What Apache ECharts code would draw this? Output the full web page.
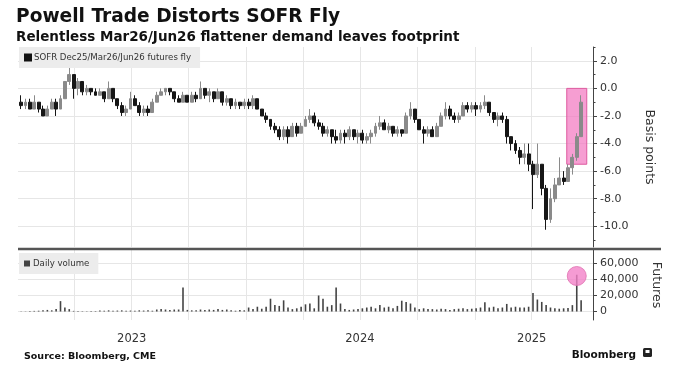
<!DOCTYPE html>
<html><head><meta charset="utf-8">
<script src="https://cdn.jsdelivr.net/npm/echarts@6/dist/echarts.min.js"></script>
<style>html,body{margin:0;padding:0;background:#fff}#c{width:675px;height:370px}</style>
</head><body><div id="c"></div>
<script>
// ---- data (weekly) ----
const weekStart = [2023, 0, 6];   // first weekly bar (Friday)
const flyOpen = [-1.0,-1.25,-1.0,-1.5,-1.0,-1.5,-2.0,-1.5,-1.0,-1.5,-0.75,0.5,1.0,0.0,0.5,-0.25,0.0,-0.25,-0.5,-0.25,-0.75,0.0,-0.75,-1.25,-1.75,-1.5,-0.75,-1.25,-1.75,-1.5,-1.75,-1.0,-0.5,-0.25,0.0,-0.25,-0.75,-1.0,-0.5,-1.0,-0.5,-0.75,0.0,-0.5,-0.25,-0.75,-0.25,-1.0,-0.75,-1.25,-1.0,-1.25,-1.0,-1.25,-0.75,-1.5,-2.0,-2.25,-2.75,-3.0,-3.5,-3.0,-3.5,-2.75,-3.25,-2.75,-2.25,-2.0,-2.5,-2.75,-3.25,-3.0,-3.5,-3.75,-3.25,-3.5,-3.0,-3.5,-3.25,-3.75,-3.5,-3.25,-2.75,-2.5,-3.0,-2.75,-3.25,-3.0,-3.25,-2.0,-1.5,-2.25,-3.0,-3.25,-3.0,-3.5,-2.75,-2.0,-1.5,-2.0,-2.25,-2.0,-1.25,-1.5,-1.25,-1.5,-1.25,-1.0,-1.75,-2.25,-2.0,-2.25,-3.5,-4.0,-4.5,-5.0,-4.75,-5.5,-6.25,-5.5,-7.25,-9.5,-8.0,-7.0,-6.5,-6.75,-5.75,-5.0,-3.5];
const flyClose = [-1.25,-1.0,-1.5,-1.0,-1.5,-2.0,-1.5,-1.0,-1.5,-0.75,0.5,1.0,0.0,0.5,-0.25,0.0,-0.25,-0.5,-0.25,-0.75,0.0,-0.75,-1.25,-1.75,-1.5,-0.75,-1.25,-1.75,-1.5,-1.75,-1.0,-0.5,-0.25,0.0,-0.25,-0.75,-1.0,-0.5,-1.0,-0.5,-0.75,0.0,-0.5,-0.25,-0.75,-0.25,-1.0,-0.75,-1.25,-1.0,-1.25,-1.0,-1.25,-0.75,-1.5,-2.0,-2.25,-2.75,-3.0,-3.5,-3.0,-3.5,-2.75,-3.25,-2.75,-2.25,-2.0,-2.5,-2.75,-3.25,-3.0,-3.5,-3.75,-3.25,-3.5,-3.0,-3.5,-3.25,-3.75,-3.5,-3.25,-2.75,-2.5,-3.0,-2.75,-3.25,-3.0,-3.25,-2.0,-1.5,-2.25,-3.0,-3.25,-3.0,-3.5,-2.75,-2.0,-1.5,-2.0,-2.25,-2.0,-1.25,-1.5,-1.25,-1.5,-1.25,-1.0,-1.75,-2.25,-2.0,-2.25,-3.5,-4.0,-4.5,-5.0,-4.75,-5.5,-6.25,-5.5,-7.25,-9.5,-8.0,-7.0,-6.5,-6.75,-5.75,-5.0,-3.5,-1.0];
const flyLow = [-1.5,-1.5,-1.5,-1.5,-1.75,-2.0,-2.0,-1.5,-2.0,-1.5,-0.75,0.25,-0.75,-0.5,-0.5,-0.5,-0.5,-0.5,-0.5,-1.0,-0.75,-1.0,-1.5,-2.0,-2.0,-1.5,-1.25,-2.0,-2.0,-2.0,-1.75,-1.0,-0.5,-0.5,-0.5,-1.0,-1.0,-1.0,-1.0,-1.0,-1.0,-0.75,-0.75,-1.0,-1.0,-0.75,-1.25,-1.25,-1.5,-1.5,-1.5,-1.5,-1.5,-1.5,-1.5,-2.0,-2.5,-3.0,-3.25,-3.75,-3.75,-4.0,-3.5,-3.5,-3.25,-2.75,-2.5,-2.75,-3.0,-3.5,-3.5,-4.0,-4.0,-4.0,-4.0,-3.75,-3.75,-4.0,-4.0,-4.0,-4.0,-3.5,-3.0,-3.0,-3.25,-3.5,-3.5,-3.5,-3.25,-2.25,-2.5,-3.0,-4.0,-3.5,-3.5,-3.5,-2.75,-2.25,-2.25,-2.5,-2.5,-2.0,-1.75,-1.75,-2.0,-1.75,-1.5,-2.0,-2.5,-2.75,-2.5,-4.0,-4.5,-4.75,-5.5,-5.5,-6.0,-8.75,-6.5,-7.75,-10.25,-9.75,-8.25,-7.0,-7.0,-6.75,-6.25,-5.25,-3.5];
const flyHigh = [-0.5,-0.75,-0.75,-0.5,-1.0,-1.25,-1.25,-0.75,-0.75,-0.5,0.5,1.5,1.0,0.75,0.5,0.25,0.0,0.0,0.0,-0.25,0.5,0.0,-0.75,-1.0,-1.25,-0.25,-0.5,-1.0,-1.25,-1.25,-0.75,-0.25,0.0,0.0,0.0,-0.25,-0.5,-0.25,-0.5,-0.25,-0.25,0.5,0.0,0.0,-0.25,0.0,-0.25,-0.5,-0.75,-0.75,-1.0,-0.75,-0.75,-0.5,-0.75,-1.5,-1.75,-2.25,-2.5,-2.75,-2.75,-2.75,-2.5,-2.5,-2.5,-2.0,-1.5,-1.75,-2.25,-2.5,-2.75,-3.0,-3.0,-3.0,-3.0,-2.75,-3.0,-3.0,-3.0,-3.25,-3.0,-2.5,-2.0,-2.25,-2.5,-2.75,-2.75,-3.0,-1.75,-1.0,-1.5,-2.25,-2.75,-2.75,-2.75,-2.5,-1.75,-1.0,-1.25,-1.75,-1.75,-1.0,-1.0,-1.0,-1.0,-1.0,-0.5,-1.0,-1.75,-1.75,-1.75,-2.0,-3.5,-3.75,-4.25,-4.0,-4.0,-5.25,-4.0,-5.5,-7.0,-7.25,-6.5,-5.0,-6.0,-5.5,-4.75,-3.25,-0.5];
const dailyVolume = [300,300,500,800,1000,1500,2000,1500,3000,13000,5000,3000,800,500,500,400,500,600,1200,1000,1500,1000,1200,1500,1000,1200,1000,1500,1200,1500,1000,2500,3000,2500,2000,2500,2500,30000,2000,1500,1500,2500,2000,2500,2000,3000,2000,2500,1500,1000,2000,1500,5000,3000,6000,3500,6000,16000,8000,7000,14000,5000,3000,4000,6000,9000,10000,4000,20000,16000,6000,8000,30000,10000,3000,2000,2500,3000,4000,5000,6000,4000,8000,5000,6000,4000,7000,13500,12000,10000,5000,3000,4000,3000,3000,2500,3500,3000,2000,3000,3500,4000,3000,3500,4000,5000,11500,5000,6000,4000,5000,9500,5000,6000,5000,5000,6000,23000,15000,12000,8000,5000,4000,3500,4000,4500,8000,46000,14000];
const xRange = ['2023-01-01', '2025-07-09'];
const quarterDates = ['2023-04-01','2023-07-01','2023-10-01','2024-01-01','2024-04-01','2024-07-01','2024-10-01','2025-01-01','2025-04-01'];
const yearLabelDates = ['2023-07-02','2024-07-01','2025-04-02'];
const flyTicks = [2,0,-2,-4,-6,-8,-10];
const flyMinorTicks = [3,1,-1,-3,-5,-7,-9,-11];
const volumeTicks = [0,20000,40000,60000];
const highlightBox = [['2025-05-28', 0], ['2025-06-29', -5.5]];
const highlightSpike = ['2025-06-13', 44400];

// ---- build ----
const ts = s => { const p = s.split('-').map(Number); return Date.UTC(p[0], p[1]-1, p[2]); };
const weekDates = flyOpen.map((_, i) => Date.UTC(weekStart[0], weekStart[1], weekStart[2] + 7*i));
const candleData = weekDates.map((d, i) => [d, flyOpen[i], flyClose[i], flyLow[i], flyHigh[i]]);
const volData = weekDates.map((d, i) => [d, dailyVolume[i]]);
const FONT = 'DejaVu Sans';
const gridColor = '#e6e6e6';

const xCommon = {
  type: 'value', min: ts(xRange[0]), max: ts(xRange[1]), scale: true,
  axisLine: {show: false},
  axisTick: {show: false, customValues: quarterDates.map(ts)},
  splitLine: {show: true, lineStyle: {color: gridColor, width: 1}}
};

const chart = echarts.init(document.getElementById('c'));
chart.setOption({
  animation: false,
  backgroundColor: '#fff',
  title: [
    {text: 'Powell Trade Distorts SOFR Fly', left: 11, top: 3,
     textStyle: {fontFamily: FONT, fontSize: 18.6, fontWeight: 'bold', color: '#111'},
     subtext: 'Relentless Mar26/Jun26 flattener demand leaves footprint',
     subtextStyle: {fontFamily: FONT, fontSize: 13.5, fontWeight: 'bold', color: '#111'}, itemGap: 3},
    {text: 'Source: Bloomberg, CME', left: 19, top: 347,
     textStyle: {fontFamily: FONT, fontSize: 9.5, fontWeight: 'bold', color: '#111'}},
    {text: 'Bloomberg', right: 34, top: 345,
     textStyle: {fontFamily: FONT, fontSize: 10.5, fontWeight: 'bold', color: '#111'}}
  ],
  legend: [
    {data: [{name: 'SOFR Dec25/Mar26/Jun26 futures fly', itemStyle: {color: '#111', borderColor: '#111'}}],
     left: 19, top: 47, icon: 'rect', itemWidth: 6, itemHeight: 6, itemGap: 3,
     backgroundColor: '#ececec', padding: [6, 9, 6, 5], selectedMode: false,
     textStyle: {fontFamily: FONT, fontSize: 8.6, color: '#333', padding: [0, 0, 0, -2]}},
    {data: [{name: 'Daily volume', itemStyle: {color: '#444', borderColor: '#444'}}],
     left: 19, top: 253, icon: 'rect', itemWidth: 6, itemHeight: 6,
     backgroundColor: '#ececec', padding: [6, 9, 6, 5], selectedMode: false,
     textStyle: {fontFamily: FONT, fontSize: 8.6, color: '#333', padding: [0, 0, 0, -2]}}
  ],
  grid: [
    {left: 18, right: 82, top: 47, height: 200},
    {left: 18, right: 82, top: 250, height: 70}
  ],
  xAxis: [
    Object.assign({gridIndex: 0, axisLabel: {show: false}}, xCommon),
    Object.assign({gridIndex: 1, axisLabel: {show: true, customValues: yearLabelDates.map(ts), margin: 13,
      fontFamily: FONT, fontSize: 11.5, color: '#333', formatter: v => String(new Date(v).getUTCFullYear())}}, xCommon)
  ],
  yAxis: [
    {gridIndex: 0, type: 'value', position: 'right', min: -11.5, max: 3.0,
     axisLine: {show: true, lineStyle: {color: '#444'}},
     axisTick: {show: true, length: 4, customValues: flyTicks, lineStyle: {color: '#444'}},
     axisLabel: {show: true, customValues: flyTicks, margin: 7, fontFamily: FONT, fontSize: 11, color: '#333',
       formatter: v => v.toFixed(1)},
     splitLine: {show: true, lineStyle: {color: gridColor}},
     name: 'Basis points', nameLocation: 'middle', nameRotate: -90, nameGap: 50,
     nameTextStyle: {fontFamily: FONT, fontSize: 12.5, color: '#333'}},
    {gridIndex: 0, type: 'value', position: 'right', offset: 0, min: -11.5, max: 3.0,
     axisLine: {show: false}, axisLabel: {show: false}, splitLine: {show: false},
     axisTick: {show: true, length: 2.5, customValues: flyMinorTicks, lineStyle: {color: '#444'}}},
    {gridIndex: 1, type: 'value', position: 'right', min: -10600, max: 76900,
     axisLine: {show: true, lineStyle: {color: '#444'}},
     axisTick: {show: true, length: 4, customValues: volumeTicks, lineStyle: {color: '#444'}},
     axisLabel: {show: true, customValues: volumeTicks, margin: 7, fontFamily: FONT, fontSize: 11, color: '#333'},
     splitLine: {show: true, lineStyle: {color: gridColor}},
     name: 'Futures', nameLocation: 'middle', nameRotate: -90, nameGap: 47,
     nameTextStyle: {fontFamily: FONT, fontSize: 12.5, color: '#333'}}
  ],
  series: [
    {name: 'SOFR Dec25/Mar26/Jun26 futures fly', type: 'candlestick', xAxisIndex: 0, yAxisIndex: 0,
     data: candleData, barWidth: 3.4,
     itemStyle: {color: '#8a8a8a', color0: '#161616', borderColor: '#8a8a8a', borderColor0: '#161616', borderWidth: 1}},
    {name: 'box', type: 'line', xAxisIndex: 0, yAxisIndex: 0, data: [], z: 10, silent: true,
     markArea: {silent: true, itemStyle: {color: 'rgba(242,120,192,0.72)', borderColor: '#de5a9f', borderWidth: 1},
       data: [[{coord: [ts(highlightBox[0][0]), highlightBox[0][1]]}, {coord: [ts(highlightBox[1][0]), highlightBox[1][1]]}]]}},
    {name: 'Daily volume', type: 'bar', xAxisIndex: 1, yAxisIndex: 2, data: volData, barWidth: 1.6,
     itemStyle: {color: '#444'}},
    {name: 'spike', type: 'line', xAxisIndex: 1, yAxisIndex: 2, data: [], z: 10, silent: true,
     markPoint: {silent: true, symbol: 'circle', symbolSize: 19, label: {show: false},
       itemStyle: {color: 'rgba(242,130,200,0.8)', borderColor: '#e070b0', borderWidth: 0.8},
       data: [{coord: [ts(highlightSpike[0]), highlightSpike[1]]}]}}
  ],
  graphic: [
    {type: 'line', shape: {x1: 18, y1: 249, x2: 661, y2: 249}, style: {stroke: '#555', lineWidth: 2.5}, z: 100},
    {type: 'rect', shape: {x: 643, y: 348, width: 9, height: 9, r: 1.5}, style: {fill: '#222'}, z: 100},
    {type: 'rect', shape: {x: 645.5, y: 350, width: 4, height: 3}, style: {fill: '#fff'}, z: 101}
  ]
});
</script></body></html>
